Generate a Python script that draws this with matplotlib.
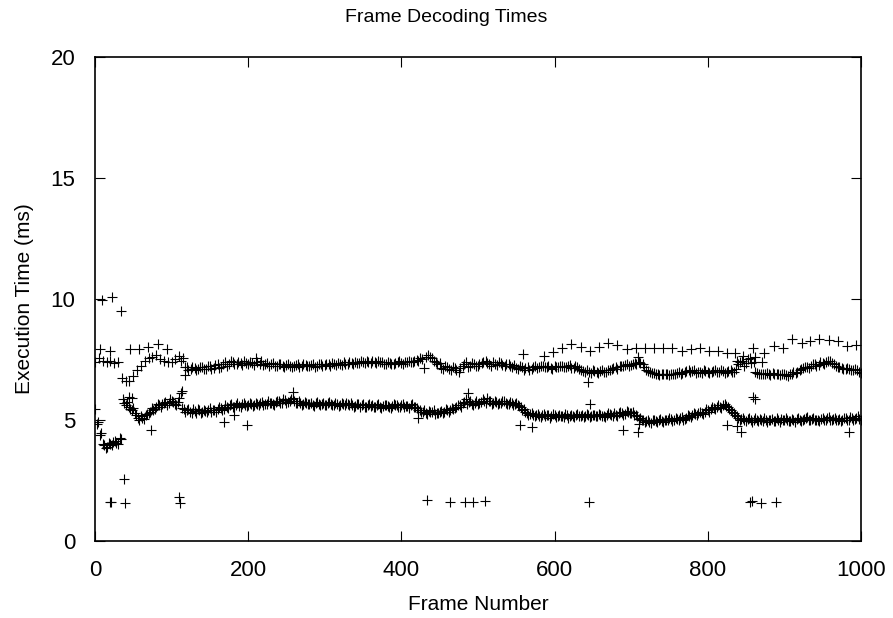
import numpy as np
import matplotlib
matplotlib.use('Agg')
from matplotlib import pyplot as plt

plt.rcParams['font.family'] = ['Liberation Sans', 'DejaVu Sans']

# upper band, one value every 5 frames (0..1000)
upper_frames = np.arange(0, 1001, 5)
upper_ms = [
    7.40, 7.55, 7.42, 7.38, 7.45, 7.35, 7.38, 6.72, 6.62, 6.60,
    6.80, 7.05, 7.25, 7.45, 7.55, 7.62, 7.68, 7.50, 7.42, 7.40,
    7.38, 7.50, 7.65, 7.58, 7.18, 7.12, 7.15, 7.10, 7.20, 7.12,
    7.22, 7.15, 7.30, 7.18, 7.38, 7.32, 7.40, 7.30, 7.35, 7.42,
    7.30, 7.35, 7.55, 7.32, 7.28, 7.35, 7.30, 7.25, 7.30, 7.22,
    7.28, 7.25, 7.22, 7.30, 7.25, 7.28, 7.22, 7.30, 7.25, 7.32,
    7.28, 7.30, 7.35, 7.28, 7.33, 7.38, 7.32, 7.36, 7.40, 7.35,
    7.38, 7.42, 7.36, 7.40, 7.45, 7.38, 7.30, 7.35, 7.32, 7.38,
    7.35, 7.40, 7.45, 7.38, 7.48, 7.55, 7.15, 7.68, 7.55, 7.40,
    7.35, 7.10, 7.20, 7.05, 7.15, 7.00, 7.25, 7.40, 7.25, 7.30,
    7.22, 7.35, 7.42, 7.30, 7.38, 7.28, 7.35, 7.25, 7.30, 7.20,
    7.15, 7.25, 7.05, 7.20, 7.12, 7.22, 7.18, 7.25, 7.20, 7.15,
    7.22, 7.18, 7.25, 7.20, 7.28, 7.15, 7.20, 7.05, 7.00, 6.98,
    7.05, 7.00, 7.02, 6.98, 7.05, 7.10, 7.20, 7.25, 7.22, 7.30,
    7.28, 7.35, 7.40, 7.30, 7.05, 7.00, 6.95, 6.90, 6.88, 6.92,
    6.85, 6.90, 6.95, 6.92, 7.00, 7.05, 7.02, 6.95, 7.00, 7.05,
    7.00, 6.98, 7.05, 7.00, 7.02, 6.98, 7.05, 7.00, 7.30, 7.45,
    7.35, 7.55, 7.40, 6.95, 6.90, 6.92, 6.88, 6.95, 6.90, 6.85,
    6.88, 6.82, 6.90, 6.95, 7.05, 7.15, 7.20, 7.25, 7.30, 7.28,
    7.35, 7.40, 7.42, 7.30, 7.20, 7.15, 7.10, 7.12, 7.08, 7.05,
    6.95,
]

# more upper band frames, 112..997 every 5
upper2_frames = np.arange(112, 998, 5)
upper2_ms = [
    7.45, 7.20, 7.05, 7.20, 7.08, 7.18, 7.10, 7.25, 7.12, 7.28,
    7.15, 7.32, 7.25, 7.42, 7.30, 7.38, 7.28, 7.35, 7.40, 7.28,
    7.38, 7.45, 7.30, 7.25, 7.35, 7.22, 7.32, 7.20, 7.30, 7.18,
    7.28, 7.20, 7.30, 7.22, 7.28, 7.20, 7.30, 7.25, 7.32, 7.25,
    7.30, 7.35, 7.28, 7.32, 7.38, 7.30, 7.36, 7.42, 7.35, 7.38,
    7.45, 7.35, 7.40, 7.33, 7.38, 7.30, 7.36, 7.42, 7.32, 7.38,
    7.40, 7.45, 7.42, 7.50, 7.60, 7.62, 7.45, 7.30, 7.15, 7.25,
    7.12, 7.20, 7.08, 7.15, 7.30, 7.20, 7.35, 7.25, 7.30, 7.40,
    7.35, 7.25, 7.32, 7.38, 7.28, 7.32, 7.22, 7.28, 7.12, 7.20,
    7.15, 7.08, 7.20, 7.15, 7.25, 7.18, 7.22, 7.12, 7.20, 7.25,
    7.18, 7.22, 7.15, 7.25, 7.10, 7.02, 7.05, 6.95, 7.02, 6.95,
    7.05, 7.00, 7.08, 7.15, 7.12, 7.22, 7.28, 7.25, 7.32, 7.30,
    7.35, 7.20, 7.02, 6.95, 6.92, 6.85, 6.90, 6.88, 6.92, 6.88,
    6.98, 6.95, 7.02, 6.98, 7.05, 7.00, 6.95, 7.02, 6.95, 7.02,
    6.98, 7.05, 6.95, 7.02, 6.98, 7.10, 7.40, 7.25, 7.50, 7.35,
    7.00, 6.92, 6.88, 6.95, 6.85, 6.92, 6.88, 6.92, 6.85, 6.92,
    7.00, 7.00, 7.10, 7.20, 7.15, 7.30, 7.25, 7.38, 7.32, 7.45,
    7.35, 7.25, 7.18, 7.10, 7.15, 7.05, 7.10, 7.00,
]

# lower band, one value every 4 frames (0..1000)
lower_frames = np.arange(0, 1001, 4)
lower_ms = [
    5.45, 4.90, 4.45, 3.95, 3.90, 4.00, 4.10, 4.05, 4.25, 5.85,
    5.60, 5.55, 5.40, 5.30, 5.10, 5.15, 5.05, 5.25, 5.35, 5.40,
    5.55, 5.60, 5.65, 5.75, 5.70, 5.80, 5.65, 5.75, 6.10, 5.45,
    5.40, 5.35, 5.45, 5.30, 5.40, 5.35, 5.38, 5.42, 5.35, 5.40,
    5.45, 5.50, 5.45, 5.55, 5.60, 5.55, 5.62, 5.58, 5.65, 5.60,
    5.62, 5.68, 5.60, 5.65, 5.70, 5.62, 5.68, 5.72, 5.65, 5.75,
    5.78, 5.70, 5.82, 5.75, 5.85, 5.78, 5.72, 5.70, 5.65, 5.72,
    5.68, 5.62, 5.70, 5.65, 5.68, 5.62, 5.70, 5.65, 5.60, 5.68,
    5.62, 5.65, 5.70, 5.60, 5.62, 5.58, 5.65, 5.60, 5.55, 5.62,
    5.58, 5.52, 5.60, 5.55, 5.58, 5.62, 5.55, 5.58, 5.62, 5.55,
    5.60, 5.52, 5.58, 5.62, 5.55, 5.48, 5.40, 5.35, 5.30, 5.38,
    5.32, 5.25, 5.30, 5.38, 5.35, 5.42, 5.40, 5.45, 5.55, 5.62,
    5.70, 5.85, 5.75, 5.68, 5.72, 5.65, 5.75, 5.80, 5.90, 5.78,
    5.72, 5.75, 5.70, 5.78, 5.72, 5.68, 5.70, 5.65, 5.62, 5.55,
    5.45, 5.30, 5.25, 5.20, 5.22, 5.18, 5.20, 5.15, 5.22, 5.18,
    5.20, 5.15, 5.18, 5.12, 5.20, 5.15, 5.18, 5.22, 5.15, 5.20,
    5.18, 5.22, 5.15, 5.20, 5.18, 5.22, 5.15, 5.20, 5.25, 5.18,
    5.22, 5.28, 5.30, 5.25, 5.35, 5.30, 5.22, 5.15, 5.10, 5.00,
    4.95, 4.92, 4.98, 4.95, 5.00, 4.95, 5.02, 4.98, 5.05, 5.00,
    5.05, 5.08, 5.02, 5.10, 5.15, 5.20, 5.25, 5.30, 5.28, 5.35,
    5.40, 5.45, 5.50, 5.55, 5.52, 5.60, 5.58, 5.45, 5.35, 5.20,
    5.10, 5.05, 5.00, 5.05, 4.98, 5.02, 5.00, 5.05, 4.95, 5.00,
    4.98, 5.05, 4.95, 5.00, 5.05, 4.98, 5.02, 4.95, 5.00, 5.05,
    4.98, 5.02, 5.08, 5.00, 5.05, 4.98, 5.02, 5.05, 5.00, 5.08,
    5.02, 5.05, 4.98, 5.05, 5.00, 5.08, 5.02, 5.10, 5.05, 5.15,
    5.00,
]

# lower band in between, frames 2..998 every 4
lower2_frames = np.arange(2, 999, 4)
lower2_ms = [
    4.85, 4.40, 4.00, 3.85, 4.05, 3.95, 4.15, 4.00, 4.20, 5.70,
    5.75, 5.45, 5.50, 5.20, 5.00, 5.10, 5.20, 5.30, 5.50, 5.45,
    5.65, 5.55, 5.70, 5.60, 5.85, 5.75, 5.60, 5.90, 5.50, 5.35,
    5.45, 5.30, 5.38, 5.45, 5.30, 5.42, 5.35, 5.48, 5.40, 5.35,
    5.55, 5.42, 5.60, 5.50, 5.65, 5.52, 5.70, 5.55, 5.72, 5.58,
    5.70, 5.58, 5.72, 5.60, 5.75, 5.66, 5.80, 5.70, 5.62, 5.80,
    5.72, 5.85, 5.70, 5.80, 5.90, 5.70, 5.80, 5.62, 5.75, 5.65,
    5.72, 5.58, 5.75, 5.62, 5.72, 5.60, 5.75, 5.62, 5.70, 5.58,
    5.70, 5.60, 5.65, 5.72, 5.55, 5.68, 5.55, 5.65, 5.52, 5.68,
    5.60, 5.55, 5.65, 5.50, 5.62, 5.58, 5.50, 5.65, 5.60, 5.52,
    5.65, 5.58, 5.50, 5.65, 5.52, 5.42, 5.35, 5.40, 5.25, 5.32,
    5.40, 5.28, 5.35, 5.28, 5.45, 5.35, 5.50, 5.48, 5.60, 5.55,
    5.75, 5.65, 5.80, 5.62, 5.78, 5.70, 5.85, 5.72, 5.80, 5.68,
    5.80, 5.65, 5.72, 5.80, 5.65, 5.75, 5.60, 5.70, 5.58, 5.40,
    5.35, 5.20, 5.30, 5.15, 5.25, 5.12, 5.25, 5.20, 5.10, 5.25,
    5.12, 5.22, 5.15, 5.25, 5.10, 5.22, 5.12, 5.25, 5.18, 5.12,
    5.25, 5.12, 5.22, 5.15, 5.25, 5.18, 5.12, 5.28, 5.20, 5.30,
    5.18, 5.35, 5.22, 5.38, 5.28, 5.35, 5.20, 5.05, 5.02, 4.92,
    5.00, 4.88, 5.02, 4.90, 5.05, 4.92, 4.98, 5.08, 4.95, 5.10,
    5.00, 5.12, 5.05, 5.20, 5.12, 5.28, 5.20, 5.35, 5.25, 5.45,
    5.35, 5.52, 5.45, 5.62, 5.50, 5.65, 5.52, 5.40, 5.28, 5.15,
    5.02, 5.10, 4.95, 5.08, 4.92, 5.08, 4.95, 5.02, 5.08, 4.92,
    5.02, 4.95, 5.08, 4.92, 5.02, 5.08, 4.95, 5.05, 4.92, 5.08,
    4.95, 5.05, 5.12, 4.98, 5.10, 5.02, 4.95, 5.08, 5.02, 5.12,
    4.98, 5.08, 5.02, 4.95, 5.10, 5.02, 5.12, 5.00, 5.10, 5.05,
]

# sparse frames sitting above the upper band
sparse_frames = [6, 20, 46, 58, 69, 82, 94,
                 559, 586, 598, 610, 622, 634, 646, 658, 670, 682, 694, 706,
                 718, 730, 742, 754, 766, 778, 790, 802, 814, 825, 836, 859,
                 873, 886, 898, 910, 923, 934, 946, 958, 970, 982, 994]
sparse_ms = [7.93, 7.85, 7.93, 7.93, 8.00, 8.15, 7.95,
             7.71, 7.64, 7.82, 7.99, 8.13, 8.03, 7.85, 8.02, 8.17, 8.10, 7.93, 7.96,
             7.99, 7.99, 7.97, 7.99, 7.86, 7.93, 7.96, 7.86, 7.86, 7.75, 7.75, 7.96,
             7.75, 8.07, 7.96, 8.35, 8.17, 8.26, 8.35, 8.30, 8.26, 8.07, 8.10]

# stray points and outliers
stray_frames = [9, 22, 34, 38, 20, 21, 39, 110, 111, 433, 464, 483, 493, 509,
                645, 855, 858, 870, 889,
                73, 168, 198, 182, 555, 570, 690, 709, 843, 985, 422, 646, 710,
                825, 838,
                117, 644, 709, 846, 862, 838, 871, 859, 862, 487, 259, 113, 44, 48]
stray_ms = [9.95, 10.07, 9.5, 2.55, 1.6, 1.62, 1.58, 1.8, 1.55, 1.7, 1.62, 1.63, 1.6, 1.65,
            1.6, 1.6, 1.65, 1.55, 1.62,
            4.6, 4.9, 4.8, 5.2, 4.8, 4.7, 4.6, 4.5, 4.5, 4.5, 5.07, 5.65, 4.85,
            4.8, 4.75,
            6.86, 6.56, 7.6, 7.64, 7.6, 7.44, 7.41, 5.96, 5.85, 6.1, 6.17, 6.2, 5.95, 5.9]

fig = plt.figure(figsize=(8.93, 6.18), dpi=100)
ax = fig.add_axes([0.1064, 0.1246, 0.8576, 0.7832])

kw = dict(marker='+', linestyle='none', color='black', markersize=6.5, markeredgewidth=0.8)
ax.plot(upper_frames, upper_ms, **kw)
ax.plot(upper2_frames, upper2_ms, **kw)
ax.plot(lower_frames, lower_ms, **kw)
ax.plot(lower2_frames, lower2_ms, **kw)
ax.plot(sparse_frames, sparse_ms, **kw)
ax.plot(stray_frames, stray_ms, **kw)

ax.set_xlim(0, 1000)
ax.set_ylim(0, 20)
ax.set_xticks([0, 200, 400, 600, 800, 1000])
ax.set_yticks([0, 5, 10, 15, 20])
ax.tick_params(direction='in', length=7, width=0.8, labelsize=16,
               top=True, right=True)
ax.tick_params(axis='x', pad=14)
ax.tick_params(axis='y', pad=14)
for s in ax.spines.values():
    s.set_linewidth(1.2)

ax.set_xlabel('Frame Number', fontsize=15, labelpad=10)
ax.set_ylabel('Execution Time (ms)', fontsize=15, labelpad=12)
fig.text(0.5, 1 - 17 / 618, 'Frame Decoding Times', fontsize=14,
         ha='center', va='center')

fig.savefig('out.png', dpi=100)
